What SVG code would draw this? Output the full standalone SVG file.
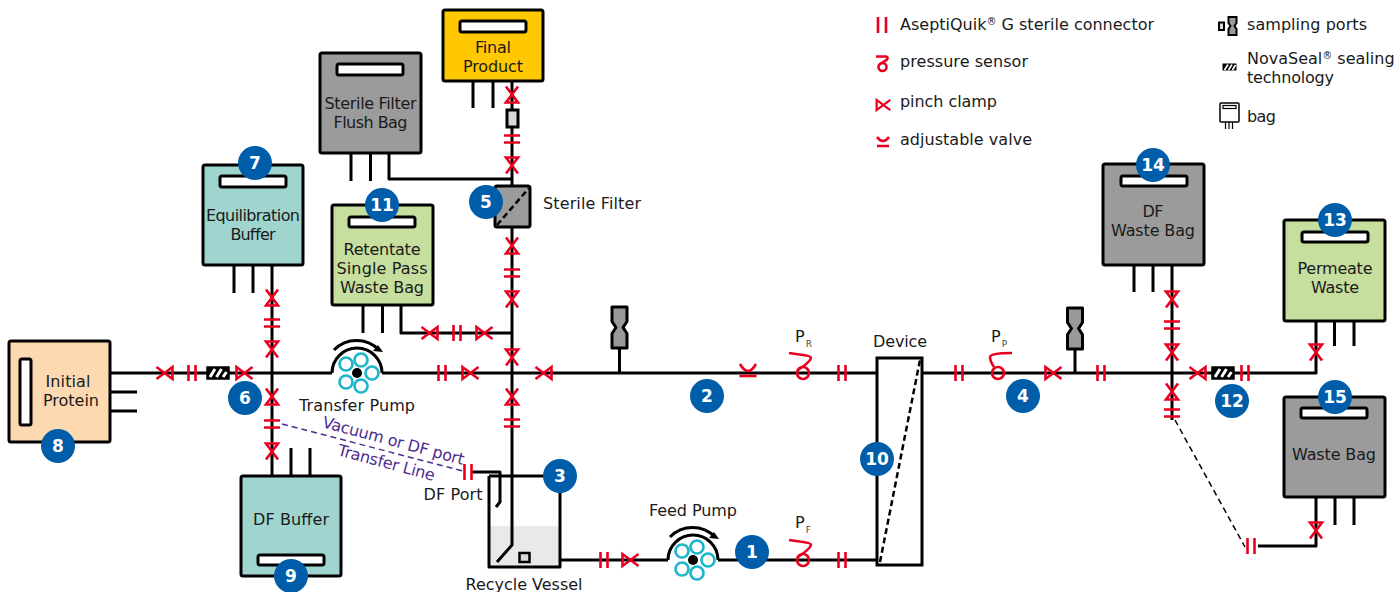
<svg xmlns="http://www.w3.org/2000/svg" width="1396" height="592" viewBox="0 0 1396 592">
<style>
text{font-family:"DejaVu Sans","Liberation Sans",sans-serif;font-size:16px;fill:#1a1a1a}
.c{text-anchor:middle}
.t{fill:none;stroke:#000;stroke-width:3;stroke-linejoin:round}
.r{fill:none;stroke:#e8001e;stroke-width:2.6}
.bag{stroke:#000;stroke-width:3}
.slot{fill:#fff;stroke:#000;stroke-width:3}
.b{fill:#005daa}
.n{fill:#fff;font-weight:bold;font-size:17px;text-anchor:middle}
.p{fill:#4f2d8f}
.sub{font-size:9px;fill:#444}
.sup{font-size:10px}
</style>
<defs>
<path id="cl" class="r" d="M8.5,-6L-7.500,6V-6L8.5,6"/>
<path id="cn" class="r" d="M-3.5,-8V8M3.5,-8V8"/>
<g id="ps"><circle r="6" class="r"/><path class="r" d="M-14,-20L0,-18Q8,-17 8,-15Q7,-11 -5,-3"/></g>
<g id="av"><path class="r" d="M-8,-9Q0,5 8,-9"/><path class="r" d="M-8.5,3H8.5"/></g>
<g id="ns"><rect x="-10.500" y="-5.500" width="21" height="11" fill="#000" stroke="#000" stroke-width="2.500"/><path d="M-8,4L-3,-4M-1.500,4L3.500,-4M5,4L8.500,-1" stroke="#fff" stroke-width="3"/></g>
<path id="sp" fill="#999" stroke="#000" stroke-width="3" stroke-linejoin="round" d="M-7.5,-20.5H7.5V-6L3.5,0L7.5,6V20.5H-7.5V6L-3.5,0L-7.5,-6Z"/>
<g id="pump">
<path class="t" d="M-25,0A25,25 0 0 1 25,0"/>
<path class="t" d="M-23,-23A31.5,31.5 0 0 1 22,-23"/>
<path d="M26,-21L16,-22L21,-28Z" fill="#000"/>
<g fill="none" stroke="#1fb6c9" stroke-width="2.700"><circle cx="4" cy="-13" r="6.500"/><circle cx="15" cy="0" r="6.500"/><circle cx="4" cy="13" r="6.500"/><circle cx="-11" cy="9" r="6.500"/><circle cx="-11" cy="-9" r="6.500"/></g>
<circle r="5" fill="#000"/>
</g>
</defs>
<g id="connectors">
<path class="t" d="M110,373H332M382,373H877M922,373H1316V321M110,392H137M110,411H137"/>
<path class="t" d="M272,265V476M291,448V476M310,448V476M234,265V293M253,265V293"/>
<path class="t" d="M512,81V110M512,127V186M512,227V476M473,81V108M493,81V108"/>
<path class="t" d="M351,153V181M370.500,153V181M389,153V179H512"/>
<path class="t" d="M363,305V333M382.500,305V333M401,305V333H512"/>
<path class="t" d="M472,472H500V476"/>
<path class="t" d="M560,560H668M718,560H877"/>
<path class="t" d="M619.500,348V373M1075,348V373"/>
<path class="t" d="M1172,265V420M1134,265V292M1153,265V292"/>
<path class="t" d="M1334.500,321V346M1354,321V346"/>
<path class="t" d="M1316,497V546H1258M1335,497V525M1354,497V525"/>
<path d="M282,424L463,471" fill="none" stroke="#4f2d8f" stroke-width="1.500" stroke-dasharray="6 4"/>
<path d="M1175,420L1245,547" fill="none" stroke="#000" stroke-width="1.500" stroke-dasharray="6 4"/>
</g>
<g id="fittings">
<use href="#cl" transform="translate(165,373) rotate(180)"/>
<use href="#cl" transform="translate(244,373)"/>
<use href="#cl" transform="translate(470,373)"/>
<use href="#cl" transform="translate(544,373) rotate(180)"/>
<use href="#cl" transform="translate(430,333) rotate(180)"/>
<use href="#cl" transform="translate(484,333)"/>
<use href="#cl" transform="translate(630,560)"/>
<use href="#cl" transform="translate(1053,373)"/>
<use href="#cl" transform="translate(1198,373) rotate(180)"/>
<use href="#cl" transform="translate(272,298) rotate(-90)"/>
<use href="#cl" transform="translate(272,349) rotate(90)"/>
<use href="#cl" transform="translate(272,397) rotate(-90)"/>
<use href="#cl" transform="translate(272,451) rotate(90)"/>
<use href="#cl" transform="translate(512,95) rotate(-90)"/>
<use href="#cl" transform="translate(512,165) rotate(90)"/>
<use href="#cl" transform="translate(512,246) rotate(-90)"/>
<use href="#cl" transform="translate(512,299) rotate(90)"/>
<use href="#cl" transform="translate(512,357) rotate(90)"/>
<use href="#cl" transform="translate(512,397) rotate(-90)"/>
<use href="#cl" transform="translate(1172,299) rotate(90)"/>
<use href="#cl" transform="translate(1172,352) rotate(90)"/>
<use href="#cl" transform="translate(1172,392) rotate(-90)"/>
<use href="#cl" transform="translate(1316,352) rotate(90)"/>
<use href="#cl" transform="translate(1316,530) rotate(90)"/>
<use href="#cn" transform="translate(192,373)"/>
<use href="#cn" transform="translate(442,373)"/>
<use href="#cn" transform="translate(457,333)"/>
<use href="#cn" transform="translate(468,472)"/>
<use href="#cn" transform="translate(604,560)"/>
<use href="#cn" transform="translate(842,373)"/>
<use href="#cn" transform="translate(842,560)"/>
<use href="#cn" transform="translate(959,373)"/>
<use href="#cn" transform="translate(1101,373)"/>
<use href="#cn" transform="translate(1245,373)"/>
<use href="#cn" transform="translate(1251,546)"/>
<use href="#cn" transform="translate(272,323) rotate(90)"/>
<use href="#cn" transform="translate(272,424) rotate(90)"/>
<use href="#cn" transform="translate(512,139) rotate(90)"/>
<use href="#cn" transform="translate(512,273) rotate(90)"/>
<use href="#cn" transform="translate(512,423) rotate(90)"/>
<use href="#cn" transform="translate(1172,325) rotate(90)"/>
<use href="#cn" transform="translate(1172,413) rotate(90)"/>
<use href="#ns" transform="translate(218,373)"/>
<use href="#ns" transform="translate(1223,373)"/>
<use href="#av" transform="translate(748,373)"/>
<use href="#ps" transform="translate(803,373)"/>
<use href="#ps" transform="translate(803,560)"/>
<g transform="translate(998,373)"><circle r="6" class="r"/><path class="r" d="M14,-20Q-8,-20 -8,-16Q-8,-12 -4,-6"/></g>
<use href="#sp" transform="translate(619.500,327.500)"/>
<use href="#sp" transform="translate(1075,328.500)"/>
<rect x="507" y="110" width="11" height="17" fill="#d9d9d9" stroke="#000" stroke-width="3"/>
<text x="795" y="342">P<tspan class="sub" dx="1" dy="5">R</tspan></text>
<text x="795" y="528">P<tspan class="sub" dx="1" dy="5">F</tspan></text>
<text x="991" y="342">P<tspan class="sub" dx="1" dy="5">P</tspan></text>
<text class="p c" textLength="146" transform="translate(392,446) rotate(15)">Vacuum or DF port</text>
<text class="p c" textLength="100" transform="translate(385,468) rotate(15)">Transfer Line</text>
<text class="c" x="453" y="500" textLength="59">DF Port</text>
<text x="543" y="209" textLength="98">Sterile Filter</text>
</g>
<g id="node-final-product"><rect class="bag" x="443" y="10" width="100" height="71" rx="2" fill="#ffc800"/><rect class="slot" x="460" y="21" width="66" height="11" rx="2"/><text class="c" x="493" y="53" textLength="36">Final</text><text class="c" x="493" y="72" textLength="60">Product</text></g>
<g id="node-flush"><rect class="bag" x="320" y="53" width="101" height="100" rx="2" fill="#9b9b9b"/><rect class="slot" x="337" y="64" width="66" height="11" rx="2"/><text class="c" x="370.500" y="109" textLength="92">Sterile Filter</text><text class="c" x="370.500" y="128" textLength="74">Flush Bag</text></g>
<g id="node-equilibration"><rect class="bag" x="203" y="165" width="100" height="100" rx="2" fill="#a0d5cf"/><rect class="slot" x="220" y="176" width="66" height="11" rx="2"/><text class="c" x="253" y="221" textLength="94">Equilibration</text><text class="c" x="253" y="240" textLength="45">Buffer</text></g>
<g id="node-retentate"><rect class="bag" x="332" y="205" width="101" height="100" rx="2" fill="#c6de9e"/><rect class="slot" x="349" y="217" width="66" height="10" rx="2"/><text class="c" x="382" y="255" textLength="77">Retentate</text><text class="c" x="382" y="274" textLength="91">Single Pass</text><text class="c" x="382" y="293" textLength="84">Waste Bag</text></g>
<g id="node-initial"><rect class="bag" x="9" y="341" width="101" height="101" rx="2" fill="#fcd9b0"/><rect class="slot" x="20" y="359" width="11" height="66" rx="2"/><text class="c" x="68" y="387" textLength="45">Initial</text><text class="c" x="71" y="406" textLength="56">Protein</text></g>
<g id="node-df-buffer"><rect class="bag" x="241" y="476" width="100" height="100" rx="2" fill="#a0d5cf"/><rect class="slot" x="258" y="555" width="66" height="10" rx="2"/><text class="c" x="291" y="525" textLength="76">DF Buffer</text></g>
<g id="node-df-waste"><rect class="bag" x="1103" y="164" width="101" height="101" rx="2" fill="#9b9b9b"/><rect class="slot" x="1121" y="176" width="66" height="10" rx="2"/><text class="c" x="1153" y="217" textLength="21">DF</text><text class="c" x="1153" y="236" textLength="84">Waste Bag</text></g>
<g id="node-permeate"><rect class="bag" x="1284" y="220" width="101" height="101" rx="2" fill="#c6de9e"/><rect class="slot" x="1302" y="232" width="66" height="10" rx="2"/><text class="c" x="1335" y="274" textLength="75">Permeate</text><text class="c" x="1335" y="293" textLength="48">Waste</text></g>
<g id="node-waste"><rect class="bag" x="1284" y="397" width="101" height="100" rx="2" fill="#9b9b9b"/><rect class="slot" x="1301" y="408" width="66" height="10" rx="2"/><text class="c" x="1334" y="460" textLength="84">Waste Bag</text></g>
<g id="node-sterile-filter"><rect class="bag" x="495" y="186" width="35" height="41" rx="2" fill="#9b9b9b"/><path d="M497,225L529,188" stroke="#000" stroke-width="2.500" stroke-dasharray="6 3.500"/></g>
<g id="node-device"><rect x="877" y="358" width="45" height="207" fill="#fff" stroke="#000" stroke-width="3"/><path d="M880,562L920,360" stroke="#000" stroke-width="2.500" stroke-dasharray="6 3.500"/><text class="c" x="900" y="347" textLength="54">Device</text></g>
<g id="node-vessel"><rect x="489" y="526" width="71" height="41" fill="#e9e9e9"/><path class="t" d="M489,476H545M560,476V567H489V476"/><path class="t" d="M512,476V545L497,562"/><path class="t" d="M500,476V502L496,507"/><rect x="519.500" y="553" width="10" height="9" fill="#d9d9d9" stroke="#000" stroke-width="2.500"/><text class="c" x="524" y="590" textLength="117">Recycle Vessel</text></g>
<g id="node-transfer-pump"><use href="#pump" transform="translate(357,373)"/><text class="c" x="357" y="411" textLength="116">Transfer Pump</text></g>
<g id="node-feed-pump"><use href="#pump" transform="translate(693,560)"/><text class="c" x="693" y="516" textLength="88">Feed Pump</text></g>
<g id="badges">
<g id="b1"><circle class="b" cx="752" cy="552" r="17"/><text class="n" x="752" y="558">1</text></g>
<g id="b2"><circle class="b" cx="707" cy="396" r="17"/><text class="n" x="707" y="402">2</text></g>
<g id="b3"><circle class="b" cx="560" cy="476" r="17"/><text class="n" x="560" y="482">3</text></g>
<g id="b4"><circle class="b" cx="1023" cy="396" r="17"/><text class="n" x="1023" y="402">4</text></g>
<g id="b5"><circle class="b" cx="486" cy="202" r="17"/><text class="n" x="486" y="208">5</text></g>
<g id="b6"><circle class="b" cx="245" cy="398" r="17"/><text class="n" x="245" y="404">6</text></g>
<g id="b7"><circle class="b" cx="255" cy="163" r="17"/><text class="n" x="255" y="169">7</text></g>
<g id="b8"><circle class="b" cx="58" cy="446" r="17"/><text class="n" x="58" y="452">8</text></g>
<g id="b9"><circle class="b" cx="291" cy="576" r="17"/><text class="n" x="291" y="582">9</text></g>
<g id="b10"><circle class="b" cx="877" cy="459" r="17"/><text class="n" x="877" y="465">10</text></g>
<g id="b11"><circle class="b" cx="382" cy="205" r="17"/><text class="n" x="382" y="211">11</text></g>
<g id="b12"><circle class="b" cx="1232" cy="401" r="17"/><text class="n" x="1232" y="407">12</text></g>
<g id="b13"><circle class="b" cx="1335" cy="220" r="17"/><text class="n" x="1335" y="226">13</text></g>
<g id="b14"><circle class="b" cx="1153" cy="165" r="17"/><text class="n" x="1153" y="171">14</text></g>
<g id="b15"><circle class="b" cx="1335" cy="397" r="17"/><text class="n" x="1335" y="403">15</text></g>
</g>
<g id="legend">
<path class="r" d="M878,17V33M886,17V33"/>
<circle cx="882.500" cy="67" r="4" class="r"/>
<path class="r" d="M876,56.500H886Q888.500,57 887,59.500L879.500,64.500"/>
<g transform="translate(883,105) scale(.85)"><use href="#cl"/></g>
<path class="r" d="M877,137Q883,145 889,137M877,146H889"/>
<rect x="1219" y="22.500" width="5" height="7.500" fill="#d9d9d9" stroke="#000" stroke-width="2"/>
<path fill="#999" stroke="#000" stroke-width="2" d="M1228.500,17H1236.500V23L1234.500,26L1236.500,29V35H1228.500V29L1230.500,26L1228.500,23Z"/>
<rect x="1222.500" y="63.500" width="14" height="7" fill="#000"/>
<path d="M1224.500,70L1228,64.500M1228.500,70L1232,64.500M1232.500,70L1235.500,65" stroke="#fff" stroke-width="1.700"/>
<rect x="1220" y="103" width="19" height="19" fill="#fff" stroke="#000" stroke-width="1.500" rx="1"/>
<rect x="1223" y="105.500" width="13" height="3" fill="#fff" stroke="#000" stroke-width="1.200"/>
<path d="M1225.500,122V129M1229,122V129M1232.500,122V129" stroke="#000" stroke-width="1.200"/>
<text x="900" y="30">AseptiQuik<tspan class="sup" dy="-5">®</tspan><tspan dy="5"> G sterile connector</tspan></text>
<text x="900" y="67" textLength="128">pressure sensor</text>
<text x="900" y="107" textLength="97">pinch clamp</text>
<text x="900" y="145" textLength="132">adjustable valve</text>
<text x="1247" y="30" textLength="120">sampling ports</text>
<text x="1247" y="64">NovaSeal<tspan class="sup" dy="-5">®</tspan><tspan dy="5"> sealing</tspan></text>
<text x="1247" y="83" textLength="87">technology</text>
<text x="1247" y="122" textLength="29">bag</text>
</g>
</svg>
